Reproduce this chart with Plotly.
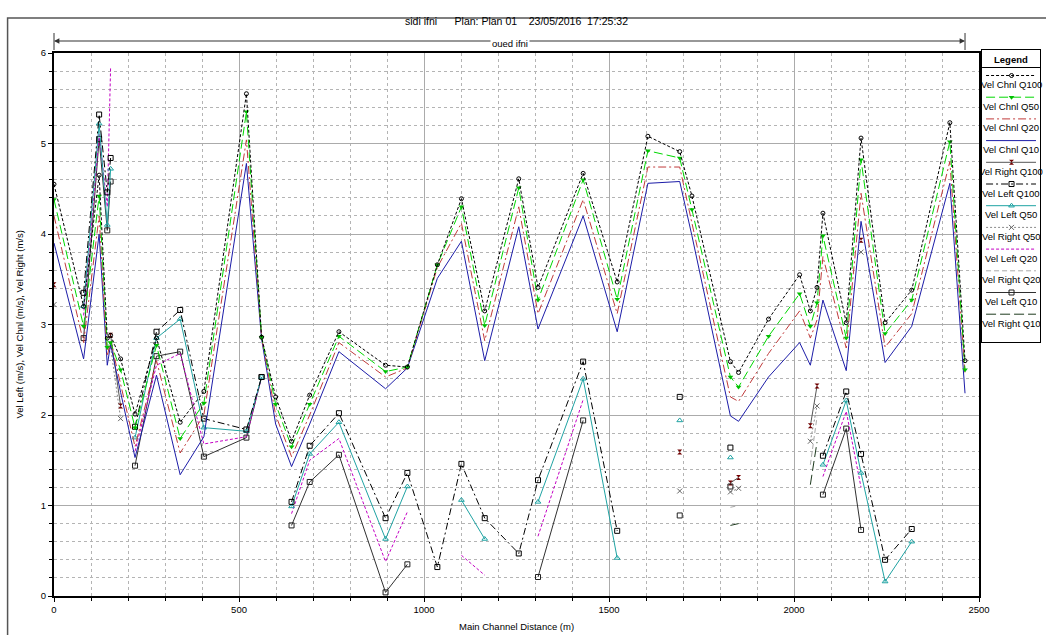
import plotly.graph_objects as go

N = None

# ---------------- data ----------------
stations = [0, 80, 122, 144, 153, 180, 219, 277, 341, 405,
            520, 561, 599, 642, 691, 770, 896, 955, 1036, 1101,
            1164, 1256, 1308, 1430, 1522, 1605, 1691, 1724, 1828, 1850,
            1931, 2015, 2044, 2062, 2078, 2141, 2181, 2246, 2318, 2421, 2462]

chnl_q100 = [4.55, 3.20, 4.65, 2.85, 2.88, 2.62, 2.01, 2.85, 1.92, 2.26,
             5.55, 2.86, 2.20, 1.71, 2.22, 2.92, 2.55, 2.53, 3.66, 4.39,
             3.15, 4.61, 3.41, 4.67, 3.47, 5.08, 4.91, 4.42, 2.59, 2.47,
             3.06, 3.55, 3.15, 3.41, 4.23, 3.02, 5.06, 3.02, 3.38, 5.23, 2.60]
chnl_q50 = [4.38, 2.98, 4.42, 2.75, 2.80, 2.50, 1.86, 2.77, 1.74, 2.13,
            5.35, 2.86, 2.12, 1.65, 2.12, 2.87, 2.48, 2.53, 3.66, 4.30,
            2.99, 4.51, 3.27, 4.60, 3.28, 4.92, 4.84, 4.27, 2.42, 2.31,
            2.87, 3.34, 2.98, 3.24, 3.98, 2.85, 4.82, 2.90, 3.27, 5.02, 2.50]
chnl_q20 = [4.20, 2.80, 4.20, 2.65, 2.82, 2.35, 1.65, 2.60, 1.58, 2.00,
            5.04, 2.86, 2.00, 1.54, 2.00, 2.80, 2.42, 2.52, 3.63, 4.12,
            2.82, 4.30, 3.12, 4.38, 3.12, 4.74, 4.74, 4.12, 2.20, 2.15,
            2.68, 3.15, 2.85, 3.05, 3.75, 2.74, 4.45, 2.75, 3.12, 4.80, 2.45]
chnl_q10 = [3.90, 2.62, 4.00, 2.55, 2.78, 2.25, 1.53, 2.44, 1.34, 1.76,
            4.78, 2.84, 1.90, 1.43, 1.90, 2.70, 2.29, 2.52, 3.51, 3.92,
            2.60, 4.08, 2.95, 4.20, 2.92, 4.56, 4.58, 3.98, 1.99, 1.93,
            2.42, 2.80, 2.55, 2.92, 3.27, 2.49, 4.14, 2.58, 2.98, 4.56, 2.24]

left_q100 = [N, 3.35, 5.32, 4.46, 4.84, N, 1.87, 2.92, 3.16, 1.96,
             1.84, 2.42, N, 1.04, 1.66, 2.02, 0.86, 1.36, 0.32, 1.46,
             0.86, 0.47, 1.28, 2.59, 0.72, N, 2.20, N, 1.64, N,
             N, N, N, N, 1.55, 2.26, 1.57, 0.40, 0.74, N, N]
left_q50 = [N, 3.20, 5.22, 4.10, 4.72, N, 1.75, 2.85, 3.06, 1.86,
            1.82, 2.42, N, 0.99, 1.57, 1.92, 0.63, 1.21, N, 1.06,
            0.63, N, 1.04, 2.40, 0.42, N, 1.94, N, 1.53, N,
            N, N, N, N, 1.45, 2.16, 1.36, 0.16, 0.60, N, N]
left_q20 = [N, 3.10, 5.10, 4.30, 5.85, N, 1.60, 2.55, 2.68, 1.68,
            1.76, 2.42, N, 0.91, 1.50, 1.74, 0.38, 0.93, N, 0.45,
            0.23, N, 0.66, 2.17, N, N, N, N, N, N,
            N, N, N, N, 1.32, 2.04, 1.20, N, N, N, N]
left_q10 = [N, 2.85, 5.05, 4.04, 4.58, N, 1.44, 2.65, 2.70, 1.54,
            1.75, 2.42, N, 0.78, 1.26, 1.56, 0.04, 0.35, N, N,
            N, N, 0.21, 1.94, N, N, 0.89, N, 1.21, N,
            N, N, N, N, 1.12, 1.85, 0.73, N, N, N, N]

right_q100 = [3.44, N, N, N, 2.88, 2.10, N, N, N, N,
              N, N, N, N, N, N, N, N, N, N,
              N, N, N, N, N, N, 1.59, N, 1.25, 1.31,
              N, N, 1.88, 2.32, N, N, 3.93, N, N, N, N]
right_q50 = [3.22, N, N, N, 2.75, 1.96, N, N, N, N,
             N, N, N, N, N, N, N, N, N, N,
             N, N, N, N, N, N, 1.16, N, 1.15, 1.19,
             N, N, 1.71, 2.10, N, N, 3.80, N, N, N, N]
right_q20 = [N, N, N, N, N, N, N, N, N, N,
             N, N, N, N, N, N, N, N, N, N,
             N, N, N, N, N, N, N, N, 0.98, 1.00,
             N, N, 1.45, 1.98, N, N, N, N, N, N, N]
right_q10 = [N, N, N, N, N, N, N, N, N, N,
             N, N, N, N, N, N, N, N, N, N,
             N, N, N, N, N, N, N, N, 0.78, 0.80,
             N, N, 1.23, 1.70, N, N, N, N, N, N, N]

series_names = ["Vel Chnl Q100", "Vel Chnl Q50", "Vel Chnl Q20", "Vel Chnl Q10",
                "Vel Right Q100", "Vel Left Q100", "Vel Left Q50", "Vel Right Q50",
                "Vel Left Q20", "Vel Right Q20", "Vel Left Q10", "Vel Right Q10"]
series_values = [chnl_q100, chnl_q50, chnl_q20, chnl_q10,
                 right_q100, left_q100, left_q50, right_q50,
                 left_q20, right_q20, left_q10, right_q10]

title_text = "sidi ifni\u00a0\u00a0\u00a0\u00a0\u00a0\u00a0Plan: Plan 01\u00a0\u00a0\u00a0\u00a023/05/2016\u00a0\u00a017:25:32"
reach_name = "oued ifni"
reach_start, reach_end = 0, 2462
x_title = "Main Channel Distance (m)"
y_title = "Vel Left (m/s), Vel Chnl (m/s), Vel Right (m/s)"

# ---------------- styles ----------------
styles = [
    dict(line=dict(color="#000000", width=1, dash="3px,2px"),
         marker=dict(symbol="circle-open", size=4, color="#000000")),
    dict(line=dict(color="#00d800", width=1, dash="9px,4px"),
         marker=dict(symbol="triangle-down", size=5, color="#00c000")),
    dict(line=dict(color="#c03a3a", width=1, dash="8px,3px,2px,3px"), marker=None),
    dict(line=dict(color="#1c1ca8", width=1), marker=None),
    dict(line=dict(color="#555555", width=1),
         marker=dict(symbol="hourglass", size=5, color="#700000")),
    dict(line=dict(color="#000000", width=1, dash="7px,3px,2px,3px"),
         marker=dict(symbol="square-open", size=5, color="#000000")),
    dict(line=dict(color="#1fa3a3", width=1),
         marker=dict(symbol="triangle-up-open", size=5, color="#1fa3a3")),
    dict(line=dict(color="#8a8a8a", width=1, dash="2px,2px"),
         marker=dict(symbol="x-thin-open", size=5, color="#666666", line=dict(width=1, color="#666666"))),
    dict(line=dict(color="#c400c4", width=1, dash="3px,2px"), marker=None),
    dict(line=dict(color="#a8a8a8", width=1, dash="5px,3px"), marker=None),
    dict(line=dict(color="#303030", width=1),
         marker=dict(symbol="square-open", size=5, color="#202020")),
    dict(line=dict(color="#1e3a1e", width=1, dash="10px,4px"), marker=None),
]

FONT = "Liberation Sans, Arial, sans-serif"

REF_W = 1046
FIG_W, FIG_H = 1056, 635
SX = FIG_W / REF_W          # horizontal design scale
ML, MR, MT, MB = round(53 * SX), 2, 48, 39
PW = FIG_W - ML - MR
PH = FIG_H - MT - MB


def pxx(p):
    return (p * SX - ML) / PW


def pxy(q):
    return (FIG_H - MB - q) / PH


fig = go.Figure()

order = [11, 9, 7, 4, 10, 8, 6, 5, 3, 2, 1, 0]
for i in order:
    st = styles[i]
    kw = dict(x=stations, y=series_values[i], name=series_names[i],
              line=st["line"], connectgaps=False, showlegend=False,
              hoverinfo="x+y+name")
    if st["marker"] is not None:
        kw["mode"] = "lines+markers"
        kw["marker"] = st["marker"]
    else:
        kw["mode"] = "lines"
    fig.add_trace(go.Scatter(**kw))

# ---------------- custom legend box (second axis pair) ----------------
LX0, LX1, LY0, LY1 = 983, 1041, 50, 342
LXC = (LX0 + LX1) / 2
ann = []
for i, name in enumerate(series_names):
    st = styles[i]
    ys = 75.5 + 21.7 * i
    yt = 84.5 + 21.7 * i
    fig.add_trace(go.Scatter(x=[LX0 + 4, LX1 - 4], y=[ys, ys], mode="lines",
                             line=st["line"], xaxis="x2", yaxis="y2",
                             showlegend=False, hoverinfo="skip"))
    if st["marker"] is not None:
        fig.add_trace(go.Scatter(x=[LXC + 0.5], y=[ys], mode="markers",
                                 marker=st["marker"], xaxis="x2", yaxis="y2",
                                 showlegend=False, hoverinfo="skip"))
    ann.append(dict(x=LXC, y=yt, xref="x2", yref="y2", text=name,
                    showarrow=False, font=dict(family=FONT, size=9.5, color="#000"),
                    xanchor="center", yanchor="middle"))
ann.append(dict(x=LXC, y=59.5, xref="x2", yref="y2", text="<b>Legend</b>",
                showarrow=False, font=dict(family=FONT, size=9.5, color="#000"),
                xanchor="center", yanchor="middle"))

ann.append(dict(x=pxx(517), y=pxy(21), xref="paper", yref="paper", text=title_text,
                showarrow=False, font=dict(family=FONT, size=10.5, color="#000"),
                xanchor="center", yanchor="middle"))
ann.append(dict(x=pxx(517), y=pxy(626), xref="paper", yref="paper", text=x_title,
                showarrow=False, font=dict(family=FONT, size=9.5, color="#000"),
                xanchor="center", yanchor="middle"))
ann.append(dict(x=pxx(18), y=pxy(325), xref="paper", yref="paper", text=y_title,
                showarrow=False, textangle=-90, font=dict(family=FONT, size=9.5, color="#000"),
                xanchor="center", yanchor="middle"))

xdom_end = pxx(980)
rx0 = reach_start / 2500 * xdom_end
rx1 = reach_end / 2500 * xdom_end
rmid = (rx0 + rx1) / 2
ry = pxy(41)
half_px = (rx1 - rx0) * PW / 2
for tx, ax in [(rx0, half_px), (rx1, -half_px)]:
    ann.append(dict(x=tx, y=ry, xref="paper", yref="paper", ax=ax, ay=0,
                    axref="pixel", ayref="pixel", text="", showarrow=True,
                    arrowhead=2, arrowsize=0.9, arrowwidth=1.2, arrowcolor="#333333"))
ann.append(dict(x=rmid, y=pxy(43), xref="paper", yref="paper", text=reach_name,
                showarrow=False, bgcolor="#ffffff", borderpad=1,
                font=dict(family=FONT, size=9.5, color="#000"),
                xanchor="center", yanchor="middle"))

shapes = [
    dict(type="line", xref="paper", yref="paper", x0=rx0, x1=rx0, y0=pxy(33), y1=pxy(50),
         line=dict(color="#333333", width=1)),
    dict(type="line", xref="paper", yref="paper", x0=rx1, x1=rx1, y0=pxy(33), y1=pxy(50),
         line=dict(color="#333333", width=1)),
    dict(type="rect", xref="paper", yref="paper", x0=pxx(7), x1=pxx(1070), y0=pxy(660), y1=pxy(18),
         line=dict(color="#555555", width=1.5)),
    dict(type="line", xref="x2", yref="y2", x0=LX0, x1=LX1, y0=67.5, y1=67.5,
         line=dict(color="#000000", width=1)),
]

tickfont = dict(family=FONT, size=9.5, color="#000")
fig.update_layout(
    width=FIG_W, height=FIG_H, autosize=False,
    margin=dict(l=ML, r=MR, t=MT, b=MB),
    paper_bgcolor="#ffffff", plot_bgcolor="#ffffff",
    showlegend=False,
    annotations=ann, shapes=shapes,
    xaxis=dict(domain=[0, xdom_end], range=[0, 2500], tick0=0, dtick=500,
               showgrid=True, gridcolor="#ababab", gridwidth=1,
               minor=dict(dtick=100, showgrid=True, gridcolor="#b4b4b4", griddash="3px,3px",
                          ticks="outside", ticklen=3, tickcolor="#000"),
               ticks="outside", ticklen=4, tickcolor="#000",
               showline=True, mirror=True, linecolor="#000", linewidth=2,
               zeroline=False, tickfont=tickfont, fixedrange=True),
    yaxis=dict(domain=[0, pxy(53)], range=[0, 6], tick0=0, dtick=1,
               showgrid=True, gridcolor="#ababab", gridwidth=1,
               minor=dict(dtick=0.2, showgrid=True, gridcolor="#b4b4b4", griddash="3px,3px",
                          ticks="outside", ticklen=3, tickcolor="#000"),
               ticks="outside", ticklen=4, tickcolor="#000",
               showline=True, mirror=True, linecolor="#000", linewidth=2,
               zeroline=False, tickfont=tickfont, fixedrange=True),
    xaxis2=dict(domain=[pxx(LX0), min(1.0, pxx(LX1))], range=[LX0, LX1], anchor="y2",
                showgrid=False, zeroline=False, showticklabels=False, ticks="",
                showline=True, mirror=True, linecolor="#000", linewidth=1, fixedrange=True),
    yaxis2=dict(domain=[pxy(LY1), pxy(LY0)], range=[LY1, LY0], anchor="x2",
                showgrid=False, zeroline=False, showticklabels=False, ticks="",
                showline=True, mirror=True, linecolor="#000", linewidth=1, fixedrange=True),
)

post = ("document.documentElement.style.overflow='hidden';"
        "document.body.style.overflow='hidden';"
        "document.body.style.margin='0px';document.body.style.padding='0px';")

fig.write_html("out.html",
               config={"responsive": False, "displayModeBar": False},
               post_script=post)
